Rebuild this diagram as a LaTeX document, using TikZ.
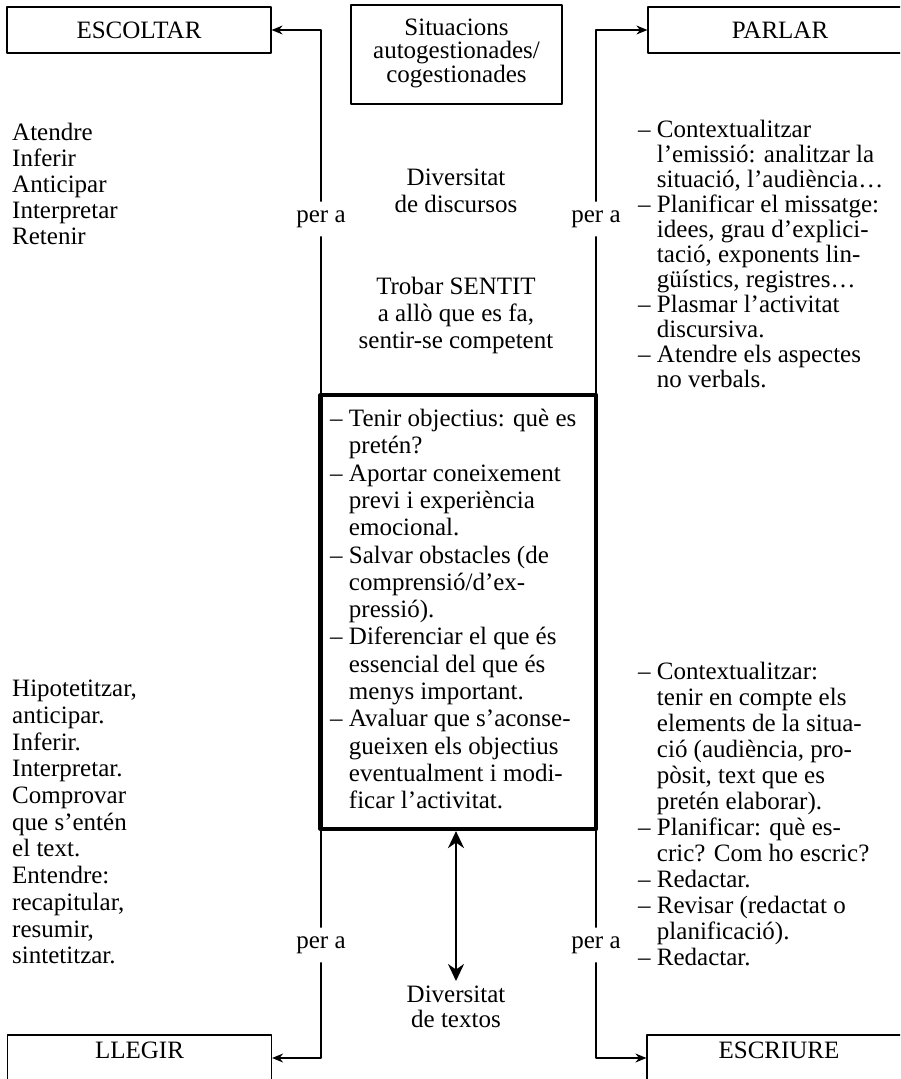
\documentclass[tikz,border=0pt]{standalone}
\usepackage{fontspec}
\setmainfont{Liberation Serif}
\usepackage{tikz}
\usetikzlibrary{arrows.meta}

\newcommand{\sagnat}{\hphantom{–\ }}

\tikzset{
  caixa/.style={draw, line width=1.2pt, inner sep=0pt, minimum width=264pt, minimum height=46pt},
  txt/.style={inner sep=0pt, align=left, anchor=north west},
  mida/.style={font=\fontsize{25}{#1}\selectfont},
  pera/.style={inner xsep=2pt, inner ysep=9pt},
  linia/.style={line width=1.2pt},
  fletxa/.style={line width=1.2pt, -{Stealth[length=11pt,width=9pt]}},
  doble/.style={line width=2pt, {Stealth[length=17pt,width=16pt]}-{Stealth[length=17pt,width=16pt]}}
}

\begin{document}
\begin{tikzpicture}[line cap=round,line join=round,x=1pt,y=-1pt,font=\fontsize{25}{26}\selectfont]
\useasboundingbox (0,0) rectangle (900,1079);
\clip (0,0) rectangle (900,1079);
% caixes
\node[caixa] (escoltar) at (139,30) {ESCOLTAR};
\node[caixa] (parlar) at (780,30) {PARLAR};
\node[caixa, text height=16.5pt, text depth=16.5pt] (llegir) at (139.5,1058) {LLEGIR};
\node[caixa, text height=16.5pt, text depth=16.5pt] (escriure) at (779,1058) {ESCRIURE};
\node[caixa, minimum width=211pt, minimum height=99pt, align=center, mida=23.5] (situacions) at (456.5,54.5)
  {Situacions\\autogestionades/\\cogestionades\rule[-8pt]{0pt}{8pt}};
\node[draw, line width=4.2pt, minimum width=275.5pt, minimum height=434pt, inner sep=0pt] (mid) at (458.25,612) {};
% textos
\node[txt, mida=26] (esc) at (12,123) {Atendre\\Inferir\\Anticipar\\Interpretar\\Retenir};
\node[txt, mida=25] (par) at (638,120) {– Contextualitzar\\\sagnat l’emissió: analitzar la\\\sagnat situació, l’audiència…\\– Planificar el missatge:\\\sagnat idees, grau d’explici-\\\sagnat tació, exponents lin-\\\sagnat güístics, registres…\\– Plasmar l’activitat\\\sagnat discursiva.\\– Atendre els aspectes\\\sagnat no verbals.};
\node[align=center, inner sep=0pt, anchor=north, mida=26.5] (discursos) at (456,169) {Diversitat\\de discursos};
\node[align=center, inner sep=0pt, anchor=north, mida=27] (sentit) at (456,277) {Trobar SENTIT\\a allò que es fa,\\sentir-se competent};
\node[txt, mida=27.3] (midtext) at (330,409) {– Tenir objectius: què es\\\sagnat pretén?\\– Aportar coneixement\\\sagnat previ i experiència\\\sagnat emocional.\\– Salvar obstacles (de\\\sagnat comprensió/d’ex-\\\sagnat pressió).\\– Diferenciar el que és\\\sagnat essencial del que és\\\sagnat menys important.\\– Avaluar que s’aconse-\\\sagnat gueixen els objectius\\\sagnat eventualment i modi-\\\sagnat ficar l’activitat.};
\node[txt, mida=26.7] (lle) at (12,680) {Hipotetitzar,\\anticipar.\\Inferir.\\Interpretar.\\Comprovar\\que s’entén\\el text.\\Entendre:\\recapitular,\\resumir,\\sintetitzar.};
\node[txt, mida=26] (escr) at (638,662) {– Contextualitzar:\\\sagnat tenir en compte els\\\sagnat elements de la situa-\\\sagnat ció (audiència, pro-\\\sagnat pòsit, text que es\\\sagnat pretén elaborar).\\– Planificar: què es-\\\sagnat cric? Com ho escric?\\– Redactar.\\– Revisar (redactat o\\\sagnat planificació).\\– Redactar.};
\node[align=center, inner sep=0pt, anchor=north, mida=25] (textos) at (456,986) {Diversitat\\de textos};
% per a
\node[pera] (pa1) at (321,219) {per a};
\node[pera] (pa2) at (596,219) {per a};
\node[pera] (pa3) at (321,945) {per a};
\node[pera] (pa4) at (596,945) {per a};
% connectors
\draw[fletxa] (pa1.north) |- (escoltar.east);
\draw[linia] (pa1.south) -- (pa1.south |- mid.north);
\draw[fletxa] (pa2.north) |- (parlar.west);
\draw[linia] (pa2.south) -- (pa2.south |- mid.north);
\draw[linia] (pa3.north) -- (pa3.north |- mid.south);
\draw[fletxa] (pa3.south) |- (llegir.east);
\draw[linia] (pa4.north) -- (pa4.north |- mid.south);
\draw[fletxa] (pa4.south) |- (escriure.west);
\draw[doble, shorten >=5pt] (textos.north |- mid.south) -- (textos.north);
\end{tikzpicture}
\end{document}
